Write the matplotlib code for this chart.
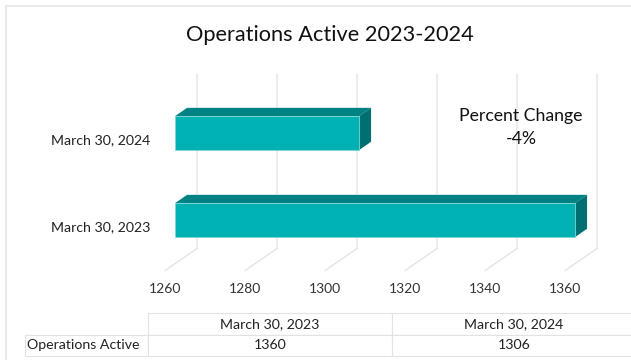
import matplotlib
matplotlib.use("Agg")
import matplotlib.pyplot as plt
from matplotlib.patches import Polygon, Rectangle

plt.rcParams['font.family'] = ['Lato', 'DejaVu Sans']

# data
categories = ["March 30, 2023", "March 30, 2024"]
values = [1360, 1306]
series_name = "Operations Active"
x_ticks = [1260, 1280, 1300, 1320, 1340, 1360]
x_min, x_max = 1260, 1360

pct_change = (values[1] - values[0]) / values[0] * 100

# 3d look: depth offset of the back wall in data units, bar depth span
DEPTH_DX = 8.0
DEPTH_DY = 0.253
BAR_D0, BAR_D1 = 0.31, 0.69
BAR_H = 0.39
Y_LO, Y_HI = -0.5, 1.5

FRONT = "#00B1B3"
TOP = "#008285"
SIDE = "#006F71"
GRID = "#e4e4e4"


def proj(x, y, d):
    return (x + d * DEPTH_DX, y + d * DEPTH_DY)


fig = plt.figure(figsize=(6.31, 3.6), dpi=100)

# thin outer frame of the chart area
fig.patches.append(Rectangle((6 / 631, -0.1), 1.2, 1 - 6 / 360 + 0.1,
                             transform=fig.transFigure, fill=False,
                             edgecolor="#e6e6e6", lw=1.2))

ax = fig.add_axes([165 / 631, (360 - 270.5) / 360, 400 / 631, 174 / 360])
ax.set_xlim(x_min, x_max)
ax.set_ylim(Y_LO, Y_HI)
ax.set_axis_off()

# floor lines and back wall gridlines
for t in x_ticks:
    xs, ys = zip(proj(t, Y_LO, 0), proj(t, Y_LO, 1), proj(t, Y_HI, 1))
    ax.plot(xs, ys, color=GRID, lw=1, clip_on=False, zorder=1)
    ax.annotate(str(t), (t, Y_LO), xytext=(0, -13.3), textcoords="offset points",
                ha="center", va="center", fontsize=10, color="#333333",
                annotation_clip=False)

# bars
for i, (cat, v) in enumerate(zip(categories, values)):
    y0, y1 = i - BAR_H / 2, i + BAR_H / 2
    front = [proj(x_min, y0, BAR_D0), proj(v, y0, BAR_D0),
             proj(v, y1, BAR_D0), proj(x_min, y1, BAR_D0)]
    top = [proj(x_min, y1, BAR_D0), proj(v, y1, BAR_D0),
           proj(v, y1, BAR_D1), proj(x_min, y1, BAR_D1)]
    side = [proj(v, y0, BAR_D0), proj(v, y0, BAR_D1),
            proj(v, y1, BAR_D1), proj(v, y1, BAR_D0)]
    ax.add_patch(Polygon(top, closed=True, facecolor=TOP, edgecolor="none",
                         clip_on=False, zorder=3))
    ax.add_patch(Polygon(side, closed=True, facecolor=SIDE, edgecolor="none",
                         clip_on=False, zorder=3))
    ax.add_patch(Polygon(front, closed=True, facecolor=FRONT, edgecolor="#7fd6d6",
                         lw=0.6, clip_on=False, zorder=4))
    ax.annotate(cat, (x_min, i), xytext=(-10.8, 0), textcoords="offset points",
                ha="right", va="center", fontsize=10.2, color="#222222",
                annotation_clip=False)

fig.text(330 / 631, 1 - 35 / 360, "Operations Active 2023-2024",
         ha="center", va="center", fontsize=15.7, color="#111111")
fig.text(521 / 631, 1 - 116 / 360, "Percent Change", ha="center", va="center",
         fontsize=12.7, color="#111111")
fig.text(521 / 631, 1 - 139 / 360, f"{pct_change:.0f}%", ha="center", va="center",
         fontsize=12.7, color="#111111")

# data table under the chart
tax = fig.add_axes([0, 0, 1, 1])
tax.set_axis_off()
cells = [["", categories[0], categories[1]],
         [series_name] + [str(v) for v in values]]
tbl = tax.table(cellText=cells, cellLoc="center",
                colWidths=[123, 244, 244],
                bbox=[25 / 631, 4 / 360, 611 / 631, 43 / 360])
tbl.auto_set_font_size(False)
for (r, c), cell in tbl.get_celld().items():
    cell.set_edgecolor("#e2e2e2")
    cell.set_linewidth(0.8)
    cell.get_text().set_fontsize(10.2)
    cell.get_text().set_color("#222222")
    if r == 0 and c == 0:
        cell.visible_edges = ""
    if c == 0 and r == 1:
        cell.get_text().set_ha("left")
        cell.PAD = 0.02

fig.savefig("out.png", dpi=100)
